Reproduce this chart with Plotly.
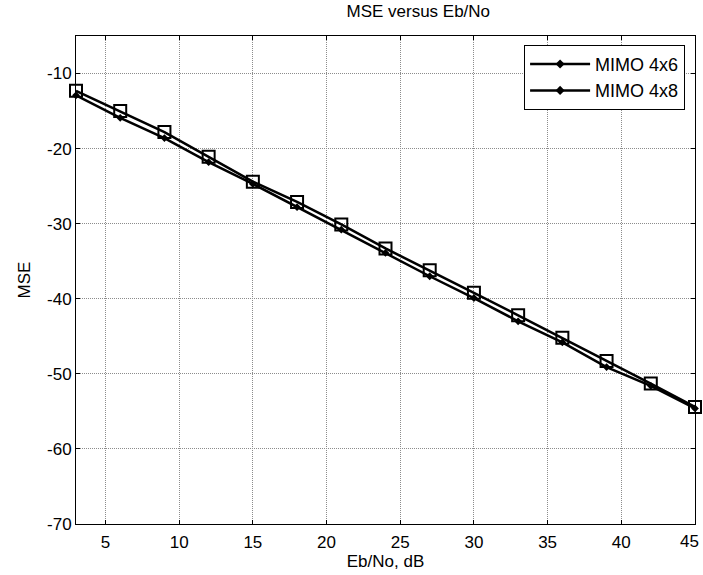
import plotly.graph_objects as go

ebno = [3, 6, 9, 12, 15, 18, 21, 24, 27, 30, 33, 36, 39, 42, 45]
mse_4x6 = [-12.3, -15.0, -17.8, -21.1, -24.4, -27.1, -30.1, -33.3, -36.2, -39.2, -42.2, -45.2, -48.3, -51.3, -54.4]
mse_4x8 = [-12.9, -15.9, -18.6, -21.8, -24.7, -27.8, -30.8, -33.9, -37.0, -39.9, -43.0, -45.8, -49.1, -51.6, -54.6]
series_names = ["MIMO 4x6", "MIMO 4x8"]
x_ticks = [5, 10, 15, 20, 25, 30, 35, 40, 45]
x_ticklabels = ["5", "10", "15", "20", "25", "30", "35", "40", ""]
last_x_label = "45"
y_ticks = [-70, -60, -50, -40, -30, -20, -10]
y_ticklabels = ["-70", "-60", "-50", "-40", "-30", "-20", "-10"]

FONT = "Liberation Sans, Arial, sans-serif"

fig = go.Figure()
fig.add_trace(go.Scatter(
    x=ebno, y=mse_4x8, mode="lines+markers", showlegend=False, cliponaxis=False,
    line=dict(color="black", width=2.5),
    marker=dict(symbol="diamond", size=6, color="black"),
))
fig.add_trace(go.Scatter(
    x=ebno, y=mse_4x6, mode="lines+markers", showlegend=False, cliponaxis=False,
    line=dict(color="black", width=2.5),
    marker=dict(symbol="square-open", size=12, color="black", line=dict(width=2, color="black")),
))
for name in series_names:
    fig.add_trace(go.Scatter(
        x=[None], y=[None], mode="lines+markers", name=name,
        line=dict(color="black", width=2.5),
        marker=dict(symbol="diamond", size=7, color="black"),
    ))

axis_common = dict(
    showline=True, linecolor="black", linewidth=1, mirror="allticks",
    ticks="inside", ticklen=4, tickcolor="black",
    showgrid=True, gridcolor="#8c8c8c", griddash="1px,1px", gridwidth=1,
    zeroline=False, automargin=False,
    tickfont=dict(family=FONT, size=17, color="black"),
)

fig.update_layout(
    width=703, height=575,
    margin=dict(l=76, r=8, t=36, b=51),
    paper_bgcolor="white", plot_bgcolor="white",
    title=dict(text="MSE versus Eb/No", x=0.595, xanchor="center", y=0.992, yanchor="top",
               font=dict(family=FONT, size=17, color="black")),
    xaxis=dict(range=[3, 45], tickvals=x_ticks, ticktext=x_ticklabels, ticklabelstandoff=3,
               title=dict(text="Eb/No, dB", font=dict(family=FONT, size=17, color="black"), standoff=1),
               **axis_common),
    yaxis=dict(range=[-70, -5], tickvals=y_ticks, ticktext=y_ticklabels,
               title=dict(text="MSE", font=dict(family=FONT, size=17, color="black"), standoff=12),
               **axis_common),
    legend=dict(x=0.984, xanchor="right", y=0.982, yanchor="top",
                bordercolor="black", borderwidth=1, bgcolor="white",
                font=dict(family=FONT, size=18, color="black"),
                itemwidth=60, tracegroupgap=0),
    showlegend=True,
    annotations=[dict(text=last_x_label, x=x_ticks[-1], xref="x", xanchor="right",
                      y=0, yref="paper", yanchor="middle", yshift=-17, xshift=6,
                      showarrow=False, font=dict(family=FONT, size=17, color="black"))],
)

fig.write_html("out.html", config={"displayModeBar": False},
               post_script="document.body.style.margin='0px';")
